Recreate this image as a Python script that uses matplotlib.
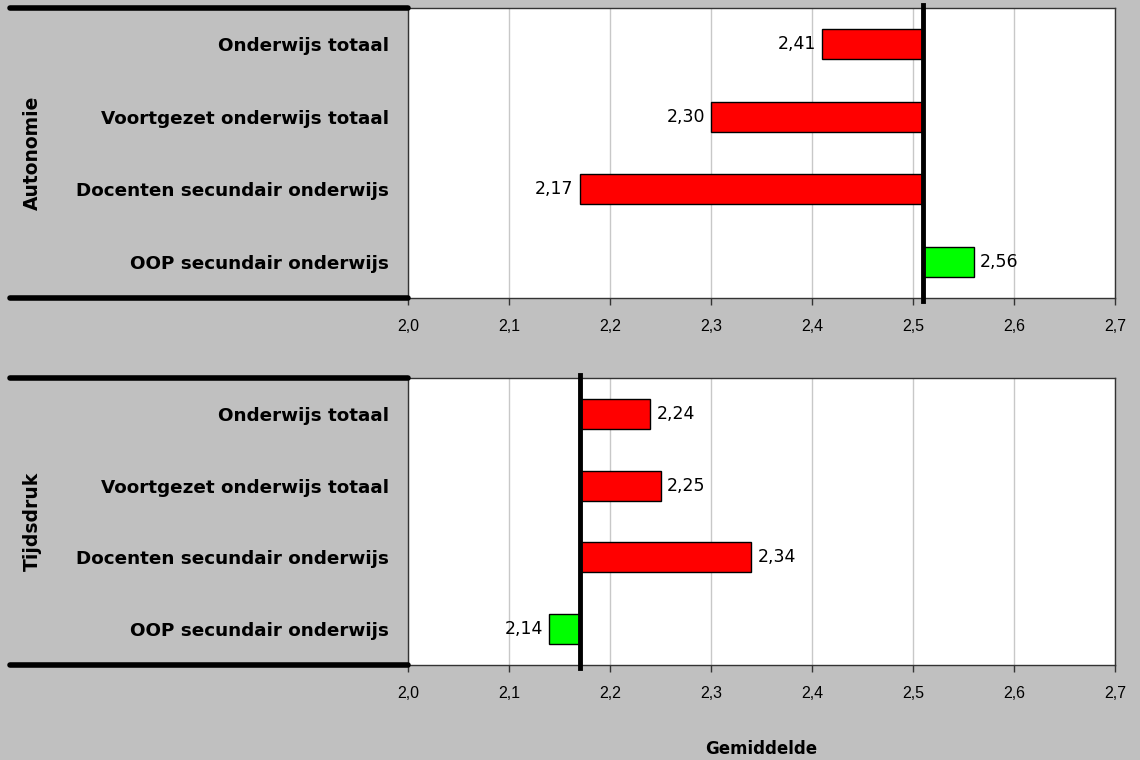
import numpy as np
import matplotlib
matplotlib.use('Agg')
import matplotlib.pyplot as plt
from matplotlib.lines import Line2D

categories = ['Onderwijs totaal', 'Voortgezet onderwijs totaal',
              'Docenten secundair onderwijs', 'OOP secundair onderwijs']

autonomie_values = [2.41, 2.30, 2.17, 2.56]
autonomie_ref = 2.51
tijdsdruk_values = [2.24, 2.25, 2.34, 2.14]
tijdsdruk_ref = 2.17

bar_colors = ['#ff0000', '#ff0000', '#ff0000', '#00ff00']
xticks = [2.0, 2.1, 2.2, 2.3, 2.4, 2.5, 2.6, 2.7]

plt.rcParams['font.family'] = ['Liberation Sans', 'DejaVu Sans']

fig = plt.figure(figsize=(11.4, 7.6), dpi=100)
fig.patch.set_facecolor('#c0c0c0')

W, H = 1140, 760


def panel(rect, values, ref, title):
    ax = fig.add_axes(rect)
    ax.set_facecolor('white')
    y = np.arange(len(categories))
    widths = [v - ref for v in values]
    ax.barh(y, widths, left=ref, height=0.42, color=bar_colors,
            edgecolor='black', linewidth=1, zorder=3)
    for yi, v in zip(y, values):
        txt = f'{v:.2f}'.replace('.', ',')
        if v < ref:
            ax.text(v - 0.006, yi, txt, ha='right', va='center', fontsize=12.5,
                    family='DejaVu Sans', zorder=4)
        else:
            ax.text(v + 0.006, yi, txt, ha='left', va='center', fontsize=12.5,
                    family='DejaVu Sans', zorder=4)
    ax.axvline(ref, ymin=-0.01, ymax=1.01, color='black', linewidth=3.5,
               clip_on=False, zorder=5)
    ax.set_xlim(2.0, 2.7)
    ax.set_ylim(len(categories) - 0.5, -0.5)
    ax.set_xticks(xticks)
    ax.set_xticklabels([f'{t:.1f}'.replace('.', ',') for t in xticks], fontsize=11.5)
    ax.set_yticks(y)
    ax.set_yticklabels(categories, fontsize=13.2, fontweight='bold',
                       family='DejaVu Sans')
    ax.tick_params(axis='y', length=0, pad=14)
    ax.tick_params(axis='x', length=5, pad=10, width=1, color='#333333')
    ax.grid(axis='x', color='#c8c8c8', linewidth=1, zorder=0)
    for s in ax.spines.values():
        s.set_color('#333333')
        s.set_linewidth(1)
    ax.set_ylabel(title, fontsize=13.5, fontweight='bold', family='DejaVu Sans')
    ax.yaxis.set_label_coords(-0.518, 0.5)
    # thick separator lines to the left of the plot area
    x0 = rect[0]
    for yy in (rect[1], rect[1] + rect[3]):
        fig.add_artist(Line2D([10 / W, x0], [yy, yy], color='black',
                              linewidth=4, solid_capstyle='round'))
    return ax


ax1 = panel([408 / W, (H - 298) / H, 707 / W, 290 / H],
            autonomie_values, autonomie_ref, 'Autonomie')
ax2 = panel([408 / W, (H - 665) / H, 707 / W, 287 / H],
            tijdsdruk_values, tijdsdruk_ref, 'Tijdsdruk')
ax2.set_xlabel('Gemiddelde', fontsize=12, fontweight='bold',
               family='DejaVu Sans', labelpad=28)

fig.savefig('out.png', dpi=100, facecolor=fig.get_facecolor())
